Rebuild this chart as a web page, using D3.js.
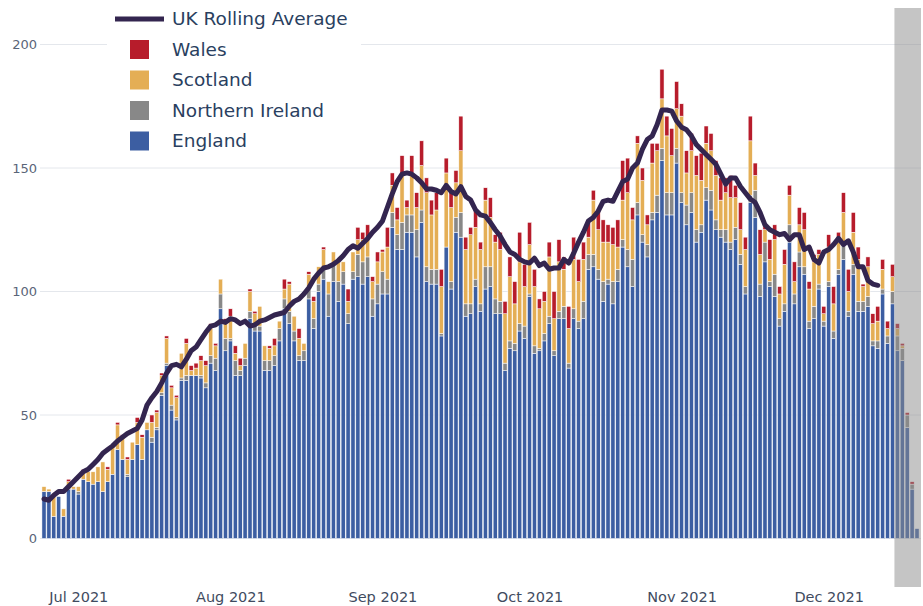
<!DOCTYPE html>
<html>
<head>
<meta charset="utf-8">
<title>UK daily deaths</title>
<script src="https://cdn.jsdelivr.net/npm/d3@7"></script>
<style>
  body { margin: 0; background: #fff; }
  svg { display: block; font-family: "DejaVu Sans", sans-serif; }
</style>
</head>
<body>
<script>
// daily values, one per day from 24 Jun 2021
const startDate = '2021-06-24'
const england = [19,19,9,17,9,20,20,18,24,23,
  22,23,19,23,26,36,32,25,32,38,
  32,44,39,44,58,70,52,48,64,64,
  66,66,65,61,71,68,93,76,80,66,
  66,70,89,84,84,68,68,70,80,93,
  87,80,72,72,97,85,100,105,90,104,
  96,103,87,105,106,103,106,90,95,99,
  99,126,117,117,124,124,114,128,104,103,
  103,82,118,101,124,122,90,91,102,92,
  101,102,91,91,68,77,76,84,81,98,
  75,76,80,87,74,89,89,69,89,85,
  89,109,110,105,96,103,95,104,118,110,
  102,131,120,114,129,132,153,131,131,152,
  136,127,132,120,124,137,133,125,122,120,
  117,121,111,99,136,130,98,112,102,98,
  86,92,120,95,110,107,85,89,101,86,
  102,81,107,113,90,107,92,92,94,78,
  77,99,79,95,76,72,45,20,4]
const northernIreland = [0,0,0,0,0,0,0,1,0,0,
  0,0,0,0,0,0,0,1,0,0,
  0,0,2,1,1,1,2,1,1,2,
  0,0,1,2,3,5,6,5,1,6,
  2,3,3,3,2,4,4,4,5,4,
  5,4,2,4,4,4,3,5,9,7,
  8,5,4,3,9,9,8,7,8,9,
  6,6,6,11,7,7,11,5,6,6,
  6,1,0,3,6,10,5,4,3,3,
  9,8,6,5,3,3,3,3,5,1,
  3,1,3,3,2,3,5,2,4,3,
  7,6,5,4,8,2,9,5,3,7,
  11,5,3,5,3,7,5,9,9,6,
  4,8,8,5,3,5,8,4,3,5,
  3,5,4,3,3,11,5,8,2,9,
  3,3,7,4,6,3,3,5,2,2,
  2,3,2,6,2,4,4,4,4,2,
  3,2,3,5,6,5,5,2,0]
const scotland = [2,1,8,0,3,3,1,2,3,4,
  5,6,12,5,12,10,9,6,7,9,
  9,3,6,6,7,10,7,8,10,13,
  2,3,6,7,11,5,6,6,9,3,
  2,6,8,4,8,6,5,4,3,4,
  11,6,7,3,6,7,7,7,5,5,
  8,4,5,8,6,9,8,7,9,8,
  13,11,6,19,3,17,9,18,30,22,
  24,19,30,30,14,25,22,28,21,22,
  27,20,23,21,20,26,16,25,16,20,
  24,16,13,24,13,20,15,14,20,16,
  17,7,22,16,16,15,15,9,16,23,
  16,24,22,8,20,18,20,23,15,16,
  31,13,17,22,18,18,16,18,12,15,
  18,12,10,15,22,6,12,5,9,14,
  10,16,12,5,11,15,13,18,12,3,
  14,11,11,13,8,13,17,6,12,7,
  8,8,3,6,3,1,0,0,0]
const wales = [0,0,0,0,0,1,0,0,1,0,
  0,0,0,1,0,1,1,1,0,2,
  1,0,3,1,1,1,1,1,0,2,
  2,2,2,2,2,1,0,2,3,3,
  3,0,1,1,0,0,1,3,0,4,
  1,0,4,0,1,2,0,1,0,0,
  1,0,5,0,5,3,5,2,4,1,
  8,5,5,8,3,7,6,10,6,6,
  7,7,6,6,5,14,5,3,7,3,
  5,8,3,7,5,8,9,12,9,9,
  7,4,4,6,11,9,5,9,9,9,
  7,7,4,8,9,7,7,11,16,14,
  5,3,5,4,8,3,12,8,11,11,
  5,9,7,8,11,7,7,6,9,6,
  9,5,11,5,10,5,10,2,8,6,
  3,6,4,8,7,7,3,3,2,3,
  5,7,4,8,9,8,5,1,4,4,
  6,4,3,5,2,1,1,1,0]
// UK rolling average (ends 12 Dec)
const rollingAvg = [16,15.5,17.5,19,19,21,23,25,27,28,
  30,32,34.5,36,37.5,39.5,41,42.5,43.5,44.5,
  48,54,57,59.5,63,67,70,70.5,69.5,72.5,
  76,77.5,80.5,83.5,86,86.5,88,87.5,89,88.5,
  87,88,86,86.5,88,88.5,89.5,90.5,91,91.5,
  94,96,97,99,101.5,105,107.5,109.5,110,111,
  112.5,114.5,117,118.5,117.5,119.5,121.5,124,126,128.5,
  134,139.5,144.5,147.5,148,147.5,146,144,141.5,141.5,
  141,140,143,140.5,139.5,142.5,138.5,137,133,131,
  130.5,128,125,122.5,119,116,115,113,112,111.5,
  113.5,110.5,111.5,109,109.5,109.5,113,111.5,115.5,120,
  124,128.5,130,132.5,136.5,137,136.5,140.5,144.5,145.5,
  150,152,157.5,161.5,163,167.5,173.5,173.5,173,169,
  166.5,165.5,163,159.5,157.5,155.5,153.5,151.5,147.5,143.5,
  146,146,142.5,140,137.5,136,132,127,125,124,
  123,123.5,121,123,123,117,118,113,111.5,116,
  117,119,121.5,119,120.5,116,110,110,104.5,103,
  102.5]
const yTicks = [0, 50, 100, 150, 200]
const incompleteFrom = '2021-12-15'

const seriesNames = ['England', 'Northern Ireland', 'Scotland', 'Wales']
const colors = {
  'England': '#3c5ea2',
  'Northern Ireland': '#888888',
  'Scotland': '#e4ae55',
  'Wales': '#b71c2b'
}
const lineColor = '#33254f'

const width = 923
const height = 606
const plotLeft = 40
const plotRight = 921

const parse = d3.utcParse('%Y-%m-%d')
const start = parse(startDate)
const dates = england.map((d, i) => d3.utcDay.offset(start, i))

const data = dates.map((d, i) => ({
  date: d,
  'England': england[i],
  'Northern Ireland': northernIreland[i],
  'Scotland': scotland[i],
  'Wales': wales[i]
}))

const svg = d3.select('body').append('svg')
  .attr('width', width)
  .attr('height', height)

const x = d3.scaleUtc()
  .domain([dates[0], dates[dates.length - 1]])
  .range([44, 917])
const y = d3.scaleLinear().domain([0, 200]).range([538.5, 44.5])
const step = x(dates[1]) - x(dates[0])
const barW = step * 0.84

// grid
svg.append('g').selectAll('line')
  .data(yTicks).enter()
  .append('line')
    .attr('x1', plotLeft).attr('x2', plotRight)
    .attr('y1', d => y(d)).attr('y2', d => y(d))
    .attr('stroke', '#e4e7ec').attr('stroke-width', 1)

// stacked bars
const stack = d3.stack().keys(seriesNames)(data)
svg.append('g').selectAll('g')
  .data(stack).enter()
  .append('g')
    .attr('fill', d => colors[d.key])
  .selectAll('rect')
  .data(d => d.filter(s => s[1] > s[0])).enter()
  .append('rect')
    .attr('x', d => x(d.data.date) - barW / 2)
    .attr('width', barW)
    .attr('y', d => y(d[1]))
    .attr('height', d => y(d[0]) - y(d[1]))
    .attr('stroke', '#fff').attr('stroke-width', 0.5)

// incomplete data band
const bandX = x(parse(incompleteFrom)) - step / 2 - 0.5
svg.append('rect')
  .attr('x', bandX)
  .attr('y', 8)
  .attr('width', plotRight - bandX)
  .attr('height', 579)
  .attr('fill', '#8b8b8b')
  .attr('opacity', 0.5)

// rolling average
const line = d3.line()
  .x((d, i) => x(dates[i]))
  .y(d => y(d))
svg.append('path')
  .datum(rollingAvg)
  .attr('d', line)
  .attr('fill', 'none')
  .attr('stroke', lineColor)
  .attr('stroke-width', 5)
  .attr('stroke-linejoin', 'round')
  .attr('stroke-linecap', 'round')

// axes
const yAxis = d3.axisLeft(y).tickValues(yTicks).tickSize(0).tickPadding(3)
const gy = svg.append('g').attr('transform', `translate(${plotLeft}, 0)`).call(yAxis)
gy.select('.domain').remove()
gy.selectAll('text').attr('font-size', 13).attr('fill', '#5a6578')
  .attr('font-family', '"DejaVu Sans", sans-serif')

const xAxis = d3.axisBottom(x)
  .ticks(d3.utcMonth.every(1))
  .tickFormat(d3.utcFormat('%b %Y'))
  .tickSize(0).tickPadding(3)
const gx = svg.append('g').attr('transform', 'translate(0, 589)').call(xAxis)
gx.select('.domain').remove()
gx.selectAll('text').attr('font-size', 14.5).attr('fill', '#3f4b60')
  .attr('font-family', '"DejaVu Sans", sans-serif')

// legend
const legend = svg.append('g')
legend.append('rect')
  .attr('x', 107).attr('y', 2).attr('width', 254).attr('height', 158)
  .attr('fill', '#fff')
const rows = [
  { name: 'UK Rolling Average', type: 'line' },
  { name: 'Wales', type: 'box' },
  { name: 'Scotland', type: 'box' },
  { name: 'Northern Ireland', type: 'box' },
  { name: 'England', type: 'box' }
]
const rowY = i => 19 + i * 30.5
rows.forEach((r, i) => {
  if (r.type === 'line') {
    legend.append('line')
      .attr('x1', 115).attr('x2', 164)
      .attr('y1', rowY(i)).attr('y2', rowY(i))
      .attr('stroke', lineColor).attr('stroke-width', 5)
  } else {
    legend.append('rect')
      .attr('x', 130).attr('y', rowY(i) - 9.5)
      .attr('width', 19).attr('height', 19)
      .attr('fill', colors[r.name])
  }
  legend.append('text')
    .attr('x', 172).attr('y', rowY(i))
    .attr('dy', '0.35em')
    .attr('font-size', 18.5)
    .attr('fill', '#2a3f5f')
    .text(r.name)
})
</script>
</body>
</html>
